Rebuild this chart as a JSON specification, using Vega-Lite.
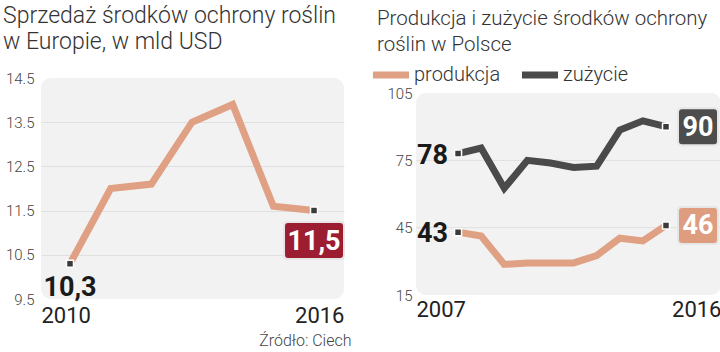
{
  "$schema": "https://vega.github.io/schema/vega-lite/v6.json",
  "padding": {"left": 3, "top": 5, "right": 0, "bottom": 0},
  "spacing": 18,
  "resolve": {"scale": {"color": "independent"}, "legend": {"color": "independent"}},
  "config": {
    "font": "Roboto",
    "view": {"stroke": null},
    "axis": {"domain": false, "ticks": false},
    "title": {"font": "Roboto", "fontWeight": 300, "fontSize": 21, "color": "#333333", "lineHeight": 26, "anchor": "start", "frame": "group"}
  },
  "hconcat": [
    {
      "width": 303,
      "height": 221,
      "view": {"fill": "#f2f2f2", "cornerRadius": 10, "stroke": null},
      "title": {"text": ["Sprzedaż środków ochrony roślin", "w Europie, w mld USD"], "fontSize": 23, "dx": -38, "offset": 17},
      "data": {"values": [
        {"year": 2010, "v": 10.3},
        {"year": 2011, "v": 12.0},
        {"year": 2012, "v": 12.1},
        {"year": 2013, "v": 13.5},
        {"year": 2014, "v": 13.9},
        {"year": 2015, "v": 11.6},
        {"year": 2016, "v": 11.5}
      ]},
      "encoding": {
        "x": {"field": "year", "type": "quantitative",
          "scale": {"domain": [2009.287, 2016.737], "nice": false, "zero": false},
          "axis": {"values": [2009.287, 2016.737], "labelFlush": true, "labelExpr": "datum.value < 2013 ? '2010' : '2016'",
            "grid": false, "labelFontSize": 22, "labelColor": "#222222", "labelPadding": 6,
            "title": "Źródło: Ciech", "titleAnchor": "end", "titleAlign": "right", "titleX": 310, "titleFontSize": 16, "titleFontWeight": 300, "titleColor": "#444444", "titlePadding": 6}},
        "y": {"field": "v", "type": "quantitative",
          "scale": {"domain": [9.5, 14.5], "nice": false, "zero": false},
          "axis": {"values": [9.5, 10.5, 11.5, 12.5, 13.5, 14.5], "format": ".1f", "title": null,
            "labelFontSize": 15, "labelFontWeight": 300, "labelColor": "#444444", "labelPadding": 7,
            "gridColor": {"condition": {"test": "datum.value > 9.6 && datum.value < 14.4", "value": "#e0e0e0"}, "value": "transparent"}}}
      },
      "layer": [
        {"mark": {"type": "line", "color": "#e0a083", "strokeWidth": 7}},
        {"transform": [{"filter": "datum.year == 2010 || datum.year == 2016"}],
         "mark": {"type": "point", "shape": "square", "filled": true, "size": 49, "fill": "#3b3b3b", "stroke": "white", "strokeWidth": 1.5, "opacity": 1}},
        {"transform": [{"filter": "datum.year == 2010"}, {"calculate": "replace(format(datum.v, '.1f'), '.', ',')", "as": "lbl"}],
         "mark": {"type": "text", "fontSize": 27, "fontWeight": "bold", "color": "#1a1a1a", "baseline": "alphabetic", "dy": 32},
         "encoding": {"text": {"field": "lbl"}}},
        {"transform": [{"filter": "datum.year == 2016"}],
         "mark": {"type": "point", "shape": "M-26,-18.5 L26,-18.5 Q30,-18.5 30,-14.5 L30,14.5 Q30,18.5 26,18.5 L-26,18.5 Q-30,18.5 -30,14.5 L-30,-14.5 Q-30,-18.5 -26,-18.5 Z",
                  "size": 4, "filled": true, "fill": "#9c1c31", "stroke": "#e6e6e6", "strokeWidth": 2, "opacity": 1, "yOffset": 30}},
        {"transform": [{"filter": "datum.year == 2016"}, {"calculate": "replace(format(datum.v, '.1f'), '.', ',')", "as": "lbl"}],
         "mark": {"type": "text", "fontSize": 27, "fontWeight": "bold", "color": "white", "baseline": "middle", "yOffset": 31},
         "encoding": {"text": {"field": "lbl"}}}
      ]
    },
    {
      "width": 305,
      "height": 217,
      "title": {"text": ["Produkcja i zużycie środków ochrony", "roślin w Polsce"], "fontSize": 20.5, "dx": -39, "offset": -2},
      "data": {"values": [
        {"year": 2007, "series": "produkcja", "v": 43},
        {"year": 2008, "series": "produkcja", "v": 41.3},
        {"year": 2009, "series": "produkcja", "v": 28.6},
        {"year": 2010, "series": "produkcja", "v": 29.3},
        {"year": 2011, "series": "produkcja", "v": 29.3},
        {"year": 2012, "series": "produkcja", "v": 29.3},
        {"year": 2013, "series": "produkcja", "v": 32.6},
        {"year": 2014, "series": "produkcja", "v": 40.3},
        {"year": 2015, "series": "produkcja", "v": 39.1},
        {"year": 2016, "series": "produkcja", "v": 46},
        {"year": 2007, "series": "zużycie", "v": 78},
        {"year": 2008, "series": "zużycie", "v": 80.5},
        {"year": 2009, "series": "zużycie", "v": 62.6},
        {"year": 2010, "series": "zużycie", "v": 75},
        {"year": 2011, "series": "zużycie", "v": 73.8},
        {"year": 2012, "series": "zużycie", "v": 71.8},
        {"year": 2013, "series": "zużycie", "v": 72.4},
        {"year": 2014, "series": "zużycie", "v": 88.5},
        {"year": 2015, "series": "zużycie", "v": 92.6},
        {"year": 2016, "series": "zużycie", "v": 90}
      ]},
      "encoding": {
        "x": {"field": "year", "type": "quantitative",
          "scale": {"domain": [2005.18, 2018.38], "nice": false, "zero": false},
          "axis": {"values": [2005.18, 2018.38], "labelFlush": true, "labelExpr": "datum.value < 2012 ? '2007' : '2016'",
            "grid": false, "labelFontSize": 22, "labelColor": "#222222", "labelPadding": 4, "title": null}},
        "y": {"field": "v", "type": "quantitative",
          "scale": {"domain": [15, 111.7], "nice": false, "zero": false},
          "axis": {"values": [15, 45, 75, 105], "title": null, "grid": false,
            "labelFontSize": 15, "labelFontWeight": 300, "labelColor": "#444444", "labelPadding": 4}}
      },
      "layer": [
        {"transform": [{"filter": "datum.year == 2007 && datum.series == 'produkcja'"}],
         "mark": {"type": "rect", "color": "#f2f2f2", "cornerRadius": 10},
         "encoding": {"x": {"datum": 2005.18}, "x2": {"datum": 2018.38}, "y": {"datum": 105}, "y2": {"datum": 15}}},
        {"transform": [{"filter": "datum.year == 2007 && datum.series == 'produkcja'"}],
         "mark": {"type": "rule", "color": "#e0e0e0"}, "encoding": {"x": {"datum": 2005.18}, "x2": {"datum": 2018.38}, "y": {"datum": 75}}},
        {"transform": [{"filter": "datum.year == 2007 && datum.series == 'produkcja'"}],
         "mark": {"type": "rule", "color": "#e0e0e0"}, "encoding": {"x": {"datum": 2005.18}, "x2": {"datum": 2018.38}, "y": {"datum": 45}}},
        {"mark": {"type": "line", "strokeWidth": 7},
         "encoding": {"color": {"field": "series", "type": "nominal",
           "scale": {"domain": ["produkcja", "zużycie"], "range": ["#e0a083", "#4a4a4a"]},
           "legend": {"title": null, "orient": "none", "legendX": -47, "legendY": -25, "direction": "horizontal",
             "symbolType": "stroke", "symbolSize": 1300, "symbolStrokeWidth": 7,
             "labelFontSize": 20, "labelFontWeight": 300, "labelColor": "#333333", "labelOffset": 1, "columnPadding": 6}}}},
        {"transform": [{"filter": "datum.year == 2007 || datum.year == 2016"}],
         "mark": {"type": "point", "shape": "square", "filled": true, "size": 49, "fill": "#3b3b3b", "stroke": "white", "strokeWidth": 1.5, "opacity": 1}},
        {"transform": [{"filter": "datum.year == 2007"}],
         "mark": {"type": "text", "fontSize": 27, "fontWeight": "bold", "color": "#1a1a1a", "align": "right", "baseline": "middle", "dx": -10, "dy": 2},
         "encoding": {"text": {"field": "v", "type": "quantitative", "format": "d"}}},
        {"transform": [{"filter": "datum.year == 2016"}],
         "mark": {"type": "point", "shape": "M-16,-18.5 L16,-18.5 Q20,-18.5 20,-14.5 L20,14.5 Q20,18.5 16,18.5 L-16,18.5 Q-20,18.5 -20,14.5 L-20,-14.5 Q-20,-18.5 -16,-18.5 Z",
                  "size": 4, "filled": true, "stroke": "#e6e6e6", "strokeWidth": 2, "opacity": 1, "xOffset": 32},
         "encoding": {"fill": {"condition": {"test": "datum.series == 'zużycie'", "value": "#4d4d4d"}, "value": "#df9d80"}}},
        {"transform": [{"filter": "datum.year == 2016"}],
         "mark": {"type": "text", "fontSize": 27, "fontWeight": "bold", "color": "white", "baseline": "middle", "xOffset": 32, "yOffset": 1},
         "encoding": {"text": {"field": "v", "type": "quantitative", "format": "d"}}}
      ]
    }
  ]
}
